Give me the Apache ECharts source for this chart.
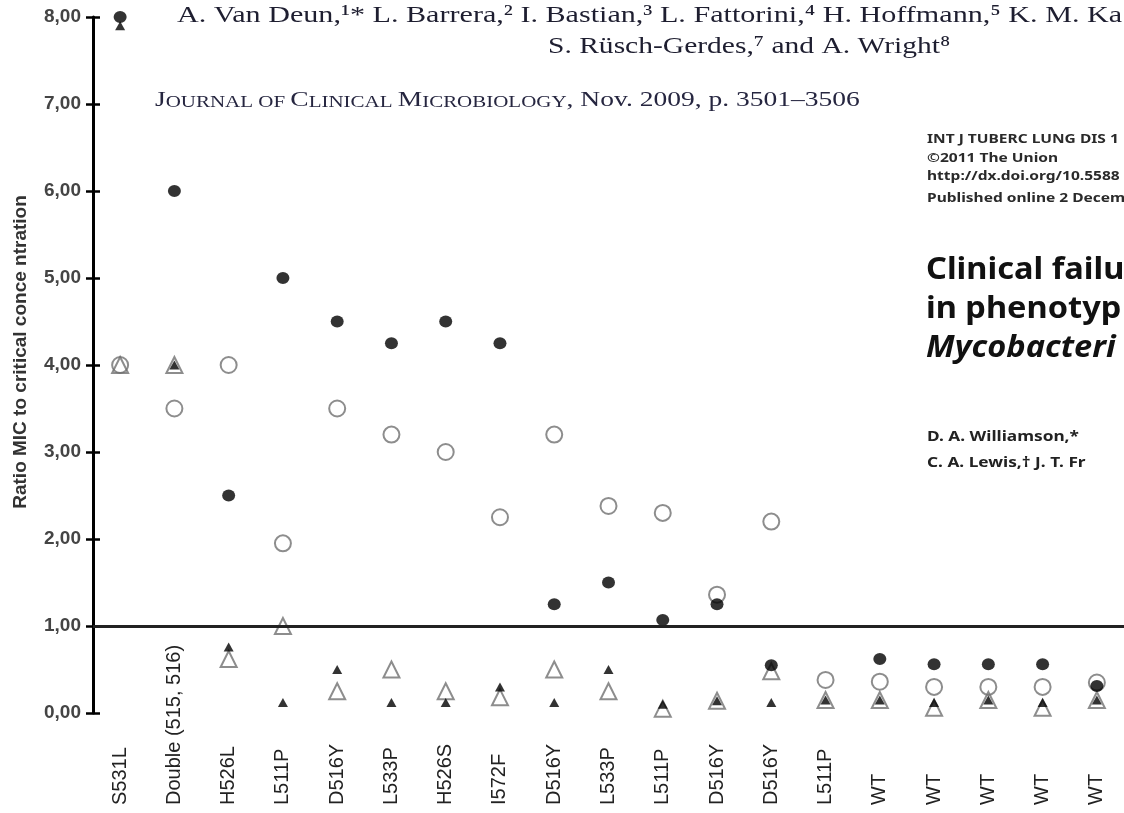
<!DOCTYPE html>
<html>
<head>
<meta charset="utf-8">
<script src="https://cdn.jsdelivr.net/npm/echarts@6/dist/echarts.min.js"></script>
<style>
html,body{margin:0;padding:0;background:#fff;}
#chart{width:1124px;height:813px;}
</style>
</head>
<body>
<div id="chart"></div>
<script>
// ---- data ----
const categories = ['S531L','Double (515, 516)','H526L','L511P','D516Y','L533P','H526S','I572F','D516Y','L533P','L511P','D516Y','D516Y','L511P','WT','WT','WT','WT','WT'];
const openCircle     = [4.0, 3.5, 4.0, 1.95, 3.5, 3.2, 3.0, 2.25, 3.2, 2.38, 2.3, 1.36, 2.2, 0.38, 0.36, 0.3, 0.3, 0.3, 0.35];
const openTriangle   = [4.0, 4.0, 0.62, 1.0, 0.25, 0.5, 0.25, 0.18, 0.5, 0.25, 0.05, 0.14, 0.48, 0.15, 0.15, 0.06, 0.15, 0.06, 0.15];
const filledCircle   = [8.0, 6.0, 2.5, 5.0, 4.5, 4.25, 4.5, 4.25, 1.25, 1.5, 1.07, 1.25, 0.55, null, 0.62, 0.56, 0.56, 0.56, 0.31];
const filledTriangle = [7.9, 4.0, 0.76, 0.12, 0.5, 0.12, 0.12, 0.3, 0.12, 0.5, 0.1, 0.14, 0.12, 0.15, 0.15, 0.12, 0.15, 0.12, 0.15];
const yTicks = [0, 1, 2, 3, 4, 5, 6, 7, 8];
const referenceLine = 1;
const yTitle = 'Ratio MIC to critical conce ntration';
const authorLine1 = 'A. Van Deun,\u00b9* L. Barrera,\u00b2 I. Bastian,\u00b3 L. Fattorini,\u2074 H. Hoffmann,\u2075 K. M. Ka';
const authorLine2 = 'S. R\u00fcsch-Gerdes,\u2077 and A. Wright\u2078';
const ijtldLines = ['INT J TUBERC LUNG DIS 1', '\u00a92011 The Union', 'http://dx.doi.org/10.5588', 'Published online 2 Decem'];
const titleLines = ['Clinical failu', 'in phenotyp', 'Mycobacteri'];
const nameLines = ['D. A. Williamson,*', 'C. A. Lewis,\u2020 J. T. Fr'];

const chart = echarts.init(document.getElementById('chart'), null, {renderer: 'canvas'});

const gray = '#707070';
const openStyle = {color: 'rgba(255,255,255,0)', borderColor: gray, borderWidth: 2};

const serif = '"Liberation Serif", "DejaVu Serif", serif';
const sans = '"Noto Sans", "Open Sans", "Liberation Sans", sans-serif';

const graphics = [
  {type: 'text', x: 177, y: 16, scaleX: 1.255, style: {text: authorLine1, fill: '#1e1e30', font: '24px ' + serif, verticalAlign: 'middle'}},
  {type: 'text', x: 548, y: 47, scaleX: 1.23, style: {text: authorLine2, fill: '#1e1e30', font: '24px ' + serif, verticalAlign: 'middle'}},
  {type: 'text', x: 155, y: 98, scaleX: 1.31, style: {
    text: '{a|J}{b|OURNAL OF }{a|C}{b|LINICAL }{a|M}{b|ICROBIOLOGY}{a|, Nov. 2009, p. 3501\u20133506}',
    verticalAlign: 'middle',
    rich: {
      a: {fontFamily: serif, fontSize: 21, lineHeight: 25, fill: '#262640', verticalAlign: 'bottom'},
      b: {fontFamily: serif, fontSize: 16, lineHeight: 19, fill: '#262640', verticalAlign: 'bottom'}
    }
  }},
  {type: 'text', x: 21, y: 352, rotation: Math.PI / 2, style: {text: yTitle, fill: '#333', font: 'bold 19px "Liberation Sans", Arial, sans-serif', align: 'center', verticalAlign: 'middle'}}
];
ijtldLines.forEach((t, i) => {
  const ys = [140, 159, 177, 199];
  graphics.push({type: 'text', x: 927, y: ys[i], scaleX: 1.35, style: {text: t, fill: '#2a2a2a', font: 'bold 11.5px ' + sans, verticalAlign: 'middle'}});
});
titleLines.forEach((t, i) => {
  graphics.push({type: 'text', x: 926, y: 270 + i * 39, scaleX: 1.05, style: {text: t, fill: '#111', font: (i === 2 ? 'italic ' : '') + 'bold 31px ' + sans, verticalAlign: 'middle'}});
});
nameLines.forEach((t, i) => {
  graphics.push({type: 'text', x: 927, y: 437 + i * 26, scaleX: 1.15, style: {text: t, fill: '#222', font: 'bold 15px ' + sans, verticalAlign: 'middle'}});
});

const option = {
  animation: false,
  backgroundColor: '#ffffff',
  grid: {left: 93, top: 17, width: 1043, bottom: 100, containLabel: false},
  xAxis: {
    type: 'category',
    data: categories,
    boundaryGap: true,
    axisLine: {show: false},
    axisTick: {show: false},
    splitLine: {show: false},
    axisLabel: {
      interval: 0, rotate: 90, align: 'left', margin: 92,
      fontSize: 20, color: '#222', fontFamily: '"Liberation Sans", Arial, sans-serif'
    }
  },
  yAxis: [{
    type: 'value', min: yTicks[0], max: yTicks[yTicks.length - 1], interval: 1,
    position: 'left',
    axisLine: {show: true, lineStyle: {color: '#000', width: 3}},
    axisTick: {show: true, length: 7, lineStyle: {color: '#000', width: 2.5}},
    splitLine: {show: false},
    axisLabel: {
      margin: 12, fontSize: 19, fontWeight: 'bold', color: '#444',
      fontFamily: '"Liberation Sans", Arial, sans-serif',
      formatter: v => v.toFixed(2).replace('.', ',')
    }
  }, {
    type: 'value', min: yTicks[0], max: yTicks[yTicks.length - 1], interval: 1,
    position: 'left',
    axisLine: {show: false},
    axisTick: {show: true, inside: true, length: 7, lineStyle: {color: '#000', width: 2.5}},
    splitLine: {show: false},
    axisLabel: {show: false}
  }],
  graphic: graphics,
  series: [
    {
      name: 'open circle', type: 'scatter', data: openCircle, symbol: 'circle', symbolSize: 16,
      itemStyle: openStyle, z: 2,
      markLine: {
        silent: true, symbol: ['none', 'none'], label: {show: false},
        lineStyle: {color: '#222', width: 3, type: 'solid'},
        data: [{yAxis: referenceLine}]
      }
    },
    {name: 'open triangle', type: 'scatter', data: openTriangle, symbol: 'triangle', symbolSize: 16, itemStyle: openStyle, z: 3},
    {name: 'filled circle', type: 'scatter', data: filledCircle, symbol: 'circle', symbolSize: [13, 12], itemStyle: {color: '#000'}, z: 4},
    {name: 'filled triangle', type: 'scatter', data: filledTriangle, symbol: 'triangle', symbolSize: [10, 9], itemStyle: {color: '#000'}, z: 5}
  ]
};
chart.setOption(option);
</script>
</body>
</html>
